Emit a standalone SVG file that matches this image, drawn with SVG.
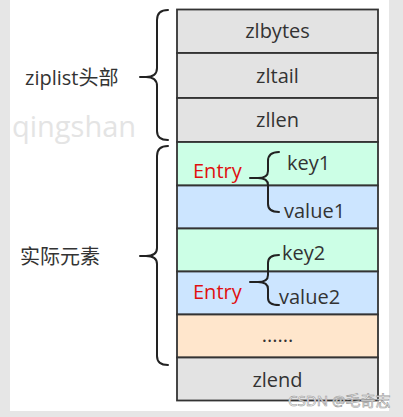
<svg xmlns="http://www.w3.org/2000/svg" width="403" height="417" viewBox="0 0 403 417">
<style>
.cell{stroke:#333;stroke-width:1.8}
.g{fill:#e3e3e3}.gr{fill:#ccffe6}.bl{fill:#cce5ff}.or{fill:#ffe6cc}
.t{font-family:"Open Sans","Noto Sans","Noto Sans CJK SC",sans-serif;font-size:20px;fill:#333;text-anchor:middle}
.tl{font-family:"Open Sans","Noto Sans","Noto Sans CJK SC",sans-serif;font-size:20px;fill:#333}
.red{font-family:"Open Sans","Noto Sans",sans-serif;font-size:20px;fill:#e01010}
.br{fill:none;stroke:#222;stroke-width:2;stroke-linecap:round}
.wm{font-family:"Open Sans","Noto Sans",sans-serif;fill:#e4e4e4}
</style>
<rect x="0" y="0" width="403" height="417" fill="#e6e6e6"/>
<rect x="10" y="0" width="379" height="411" fill="#ffffff"/>
<text class="wm" x="12" y="137" font-size="29">qingshan</text>
<g id="zlbytes"><rect class="cell g" x="177" y="9.5" width="201" height="43.5"/><text class="t" x="277.5" y="38">zlbytes</text></g>
<g id="zltail"><rect class="cell g" x="177" y="53" width="201" height="45"/><text class="t" x="277.5" y="83">zltail</text></g>
<g id="zllen"><rect class="cell g" x="177" y="98" width="201" height="44"/><text class="t" x="277.5" y="127">zllen</text></g>
<g id="key1"><rect class="cell gr" x="177" y="142" width="201" height="43.5"/><text class="tl" x="287" y="170">key1</text></g>
<g id="value1"><rect class="cell bl" x="177" y="185.5" width="201" height="43"/><text class="tl" x="284" y="218">value1</text></g>
<g id="key2"><rect class="cell gr" x="177" y="228.5" width="201" height="43"/><text class="tl" x="282" y="260">key2</text></g>
<g id="value2"><rect class="cell bl" x="177" y="271.5" width="201" height="43"/><text class="tl" x="279" y="304">value2</text></g>
<g id="more"><rect class="cell or" x="177" y="314.5" width="201" height="43"/><text class="t" x="277.5" y="342">......</text></g>
<g id="zlend"><rect class="cell g" x="177" y="357.5" width="201" height="43"/><text class="t" x="277.5" y="387">zlend</text></g>
<g id="entry1"><text class="red" x="193" y="178">Entry</text></g>
<g id="entry2"><text class="red" x="193" y="299">Entry</text></g>
<g id="header-label"><text class="tl" x="25" y="85">ziplist头部</text></g>
<g id="elements-label"><text class="tl" x="20" y="264">实际元素</text></g>
<g id="connectors">
<path class="br" d="M168,10 Q157,10 157,20 L157,68 Q157,77 146,77 L140,77 M146,77 Q157,77 157,86 L157,131 Q157,140 168,140"/>
<path class="br" d="M168,146 Q157,146 157,156 L157,248 Q157,256 146,256 L140,256 M146,256 Q157,256 157,264 L157,356 Q157,365 168,365"/>
<path class="br" d="M279,152 Q268,152 268,161 L268,171 Q268,178 258,178 L250,178 M258,178 Q268,178 268,185 L268,204 Q268,212 279,212"/>
<path class="br" d="M279,255 Q268,255 268,263 L268,275 Q268,282 258,282 L250,282 M258,282 Q268,282 268,289 L268,298 Q268,305 279,305"/>
</g>
<text x="288" y="406" font-family="'Noto Sans','Noto Sans CJK SC',sans-serif" font-size="15" fill="#ffffff" stroke="#999" stroke-width="0.6">CSDN @毛奇志</text>
</svg>
